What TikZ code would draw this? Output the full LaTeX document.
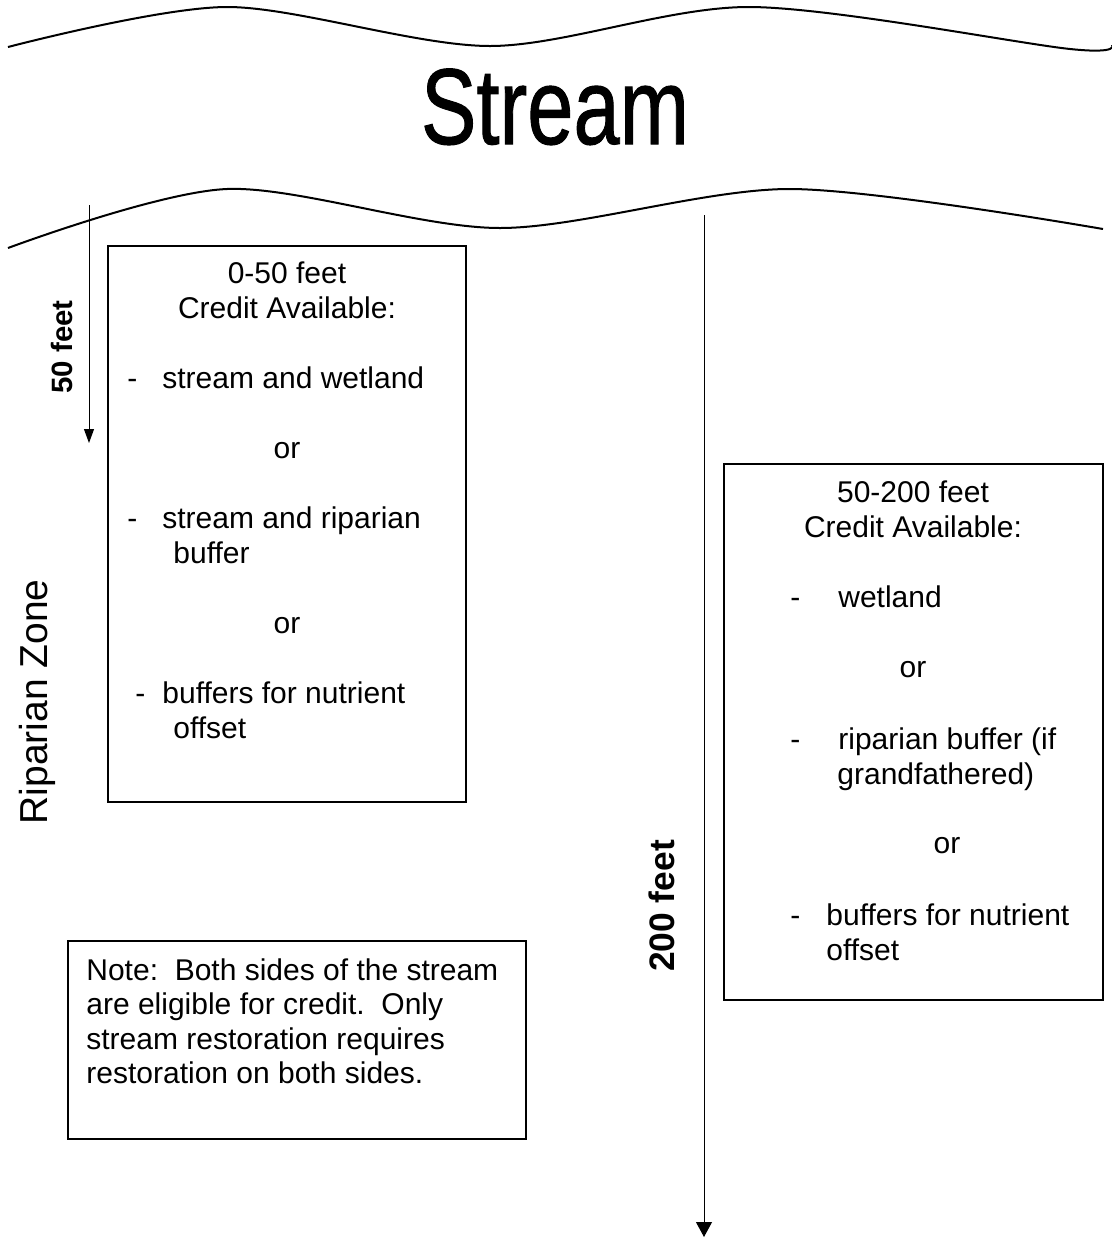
\documentclass[tikz,border=0pt]{standalone}
\usepackage{fontspec}
\setmainfont{Liberation Sans}[BoldFont={Liberation Sans Bold}]
\newfontfamily\streamfont{Liberation Sans}[FakeBold=1.0]
\usepackage{graphicx}
\usetikzlibrary{arrows.meta}

\tikzset{
  wave/.style={line width=1pt},
  infobox/.style={line width=0.7pt},
  dimarrow/.style={line width=0.5pt, -{Triangle[length=7pt,width=5pt]}},
  txt/.style={inner sep=0pt, anchor=base, font=\fontsize{15}{17.5}\selectfont},
  txtl/.style={txt, anchor=base west},
}

\begin{document}
\begin{tikzpicture}[x=0.5pt, y=-0.5pt]
\useasboundingbox (0,0) rectangle (1112,1238);

% Stream banks
\draw[wave] plot[smooth] coordinates {(8,47) (227,7) (490,46) (750,7) (1070,49) (1112,45)};
\draw[wave] plot[smooth] coordinates {(8,248) (227,189) (500,228) (790,189) (1103,229)};
\node[inner sep=0pt, anchor=base, font=\streamfont\fontsize{54}{60}\selectfont] (stream) at (555,144) {\scalebox{0.77}[1]{Stream}};

% Distance arrows
\coordinate (fiftytop) at (89,205);
\coordinate (fiftyend) at (89,443);
\draw[dimarrow] (fiftytop) -- (fiftyend);
\node[rotate=90, inner sep=0pt, font=\bfseries\fontsize{14.7}{17}\selectfont] (fiftylab) at (62,347) {50 feet};

\coordinate (twotop) at (704,215);
\coordinate (twoend) at (704,1237);
\draw[dimarrow, -{Triangle[length=7.5pt,width=8pt]}] (twotop) -- (twoend);
\node[rotate=90, inner sep=0pt, font=\bfseries\fontsize{17.7}{20}\selectfont] (twolab) at (662,906) {200 feet};

\node[rotate=90, inner sep=0pt, anchor=base, font=\fontsize{19.5}{22}\selectfont] (zone) at (47,702) {Riparian Zone};

% 0-50 feet box
\draw[infobox] (108,246) rectangle (466,802);
\node[txt] (hdA) at (287,283) {0-50 feet};
\node[txt] (crA) at (287,318) {Credit Available:};
\node[txtl] (dashA1) at (127,388) {-};
\node[txtl] (itemA1) at (162,388) {stream and wetland};
\node[txt] (orA1) at (287,458) {or};
\node[txtl] (dashA2) at (127,528) {-};
\node[txtl] (itemA2) at (162,528) {stream and riparian};
\node[txtl] (itemA2b) at (173,563) {buffer};
\node[txt] (orA2) at (287,633) {or};
\node[txtl] (dashA3) at (135,703) {-};
\node[txtl] (itemA3) at (162,703) {buffers for nutrient};
\node[txtl] (itemA3b) at (173,738) {offset};

% 50-200 feet box
\draw[infobox] (724,464) rectangle (1103,1000);
\node[txt] (hdB) at (913,502) {50-200 feet};
\node[txt] (crB) at (913,537) {Credit Available:};
\node[txtl] (dashB1) at (790,607) {-};
\node[txtl] (itemB1) at (838,607) {wetland};
\node[txt] (orB1) at (913,677) {or};
\node[txtl] (dashB2) at (790,749) {-};
\node[txtl] (itemB2) at (838,749) {riparian buffer (if};
\node[txtl] (itemB2b) at (837,784) {grandfathered)};
\node[txt] (orB2) at (947,853) {or};
\node[txtl] (dashB3) at (790,925) {-};
\node[txtl] (itemB3) at (826,925) {buffers for nutrient};
\node[txtl] (itemB3b) at (826,960) {offset};

% Note
\draw[infobox] (68,941) rectangle (526,1139);
\node[txtl] (noteA) at (86,980) {Note:~~Both sides of the stream};
\node[txtl] (noteB) at (86,1014) {are eligible for credit.~~Only};
\node[txtl] (noteC) at (86,1049) {stream restoration requires};
\node[txtl] (noteD) at (86,1083) {restoration on both sides.};

\end{tikzpicture}
\end{document}
